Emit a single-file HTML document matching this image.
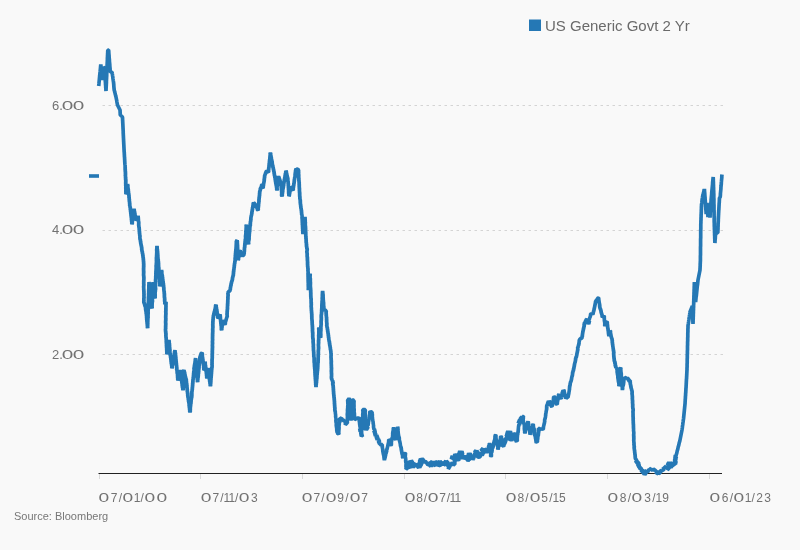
<!DOCTYPE html>
<html><head><meta charset="utf-8"><style>
html,body{margin:0;padding:0;}
body{width:800px;height:550px;background:#f9f9f9;overflow:hidden;position:relative;font-family:"Liberation Sans",sans-serif;}
.t{position:absolute;white-space:nowrap;color:#727272;line-height:1;will-change:transform;}
.z{display:inline-block;transform:scaleX(1.6);margin:0 1.8px;}
.o{display:inline-block;margin:0 -1.4px;}
.yl{font-size:13px;letter-spacing:-0.1px;left:52px;}
.xl{font-size:12px;letter-spacing:1.2px;top:491.5px;}
svg{position:absolute;left:0;top:0;}
</style></head><body>
<svg width="800" height="550" viewBox="0 0 800 550">
<g stroke="#d4d4d4" stroke-width="1" stroke-dasharray="2.5,3.5" fill="none">
<line x1="102.5" y1="105.5" x2="723" y2="105.5"/>
<line x1="102.5" y1="230.5" x2="723" y2="230.5"/>
<line x1="102.5" y1="354.5" x2="723" y2="354.5"/>
</g>
<line x1="98.5" y1="473.5" x2="722" y2="473.5" stroke="#222" stroke-width="1.2"/>
<g stroke="#dadada" stroke-width="1">
<line x1="99.5" y1="474" x2="99.5" y2="479"/>
<line x1="200.5" y1="474" x2="200.5" y2="479"/>
<line x1="302.5" y1="474" x2="302.5" y2="479"/>
<line x1="404.5" y1="474" x2="404.5" y2="479"/>
<line x1="505.5" y1="474" x2="505.5" y2="479"/>
<line x1="607.5" y1="474" x2="607.5" y2="479"/>
<line x1="709.5" y1="474" x2="709.5" y2="479"/>
</g>
<rect x="89" y="174.2" width="10" height="3.6" fill="#2578b5"/>
<polyline points="98.7,86.0 98.8,85.0 98.9,84.0 99.0,82.9 99.1,81.9 99.2,80.9 99.3,79.9 99.4,78.8 99.5,77.8 99.6,76.8 99.7,75.8 99.8,74.7 99.9,73.7 100.0,72.7 100.1,71.7 100.2,70.6 100.3,69.6 100.4,68.6 100.5,67.6 100.6,66.5 100.7,65.5 100.8,64.5 100.9,65.5 101.0,66.6 101.1,67.6 101.3,68.6 101.4,69.7 101.5,70.7 101.6,71.7 101.7,72.8 101.8,73.8 101.9,74.8 102.0,75.9 102.2,76.9 102.3,77.9 102.4,79.0 102.5,80.0 102.6,79.0 102.7,77.9 102.8,76.9 102.8,75.8 102.9,74.8 103.0,73.8 103.1,72.7 103.2,71.7 103.2,70.6 103.3,69.6 103.4,68.5 103.5,67.5 104.5,68.0 104.6,69.0 104.6,70.0 104.7,71.0 104.8,72.0 104.8,73.0 104.9,74.0 105.0,75.0 105.0,76.0 105.1,77.0 105.2,78.0 105.2,79.0 105.3,80.0 105.3,81.0 105.4,82.0 105.5,83.0 105.5,84.0 105.6,85.0 105.7,86.0 105.7,87.0 105.8,88.0 105.9,89.0 105.9,90.0 106.0,91.0 106.0,90.0 106.1,89.0 106.1,88.0 106.2,87.0 106.2,86.0 106.3,85.0 106.3,84.0 106.4,83.0 106.4,82.0 106.4,81.0 106.5,80.0 106.5,79.0 106.6,78.0 106.6,77.0 106.7,76.0 106.7,75.0 106.7,74.0 106.8,73.0 106.8,72.0 106.9,71.0 106.9,70.0 107.0,69.0 107.0,68.0 107.1,67.0 107.1,66.0 107.1,65.0 107.2,64.0 107.2,63.0 107.3,62.0 107.3,61.0 107.4,60.0 107.4,59.0 107.4,58.0 107.5,57.0 107.5,56.0 107.6,55.0 107.6,54.0 107.7,53.0 107.7,52.0 107.8,51.0 107.8,50.0 108.6,50.0 108.7,51.0 108.8,52.0 108.8,53.0 108.9,54.0 109.0,55.0 109.1,56.0 109.1,57.0 109.2,58.0 109.3,59.0 109.4,60.0 109.4,61.0 109.5,62.0 109.6,63.0 109.7,64.0 109.8,65.0 109.8,66.0 109.9,67.0 110.0,68.0 110.1,69.0 110.1,70.0 110.2,71.0 110.3,72.0 112.0,72.0 112.2,73.0 112.3,74.0 112.5,75.0 112.6,76.0 112.8,77.0 112.9,78.0 113.0,79.0 113.2,80.0 113.3,81.0 113.5,82.0 113.6,83.0 113.7,84.0 113.8,85.0 113.8,86.0 113.9,87.0 114.0,88.0 114.1,89.0 114.2,90.0 114.5,91.0 114.7,92.0 115.0,93.0 115.2,94.0 115.5,95.0 115.7,96.0 116.0,97.0 116.2,98.0 116.4,99.0 116.6,100.0 116.8,101.0 116.9,102.0 117.1,103.0 117.3,104.0 117.5,105.0 118.0,106.0 118.5,107.0 119.0,108.0 119.5,109.0 120.0,110.0 120.1,111.0 120.1,112.0 120.2,113.0 120.2,114.0 120.3,115.0 121.4,116.0 122.5,117.0 122.5,118.0 122.6,119.0 122.6,120.0 122.7,121.0 122.7,122.0 122.8,123.0 122.8,124.0 122.9,125.0 122.9,126.0 123.0,127.0 123.0,128.0 123.1,129.0 123.1,130.0 123.2,131.0 123.2,132.0 123.2,133.0 123.3,134.0 123.3,135.0 123.4,136.0 123.4,137.0 123.5,138.0 123.5,139.0 123.6,140.0 123.6,141.0 123.7,142.0 123.7,143.0 123.8,144.0 123.8,145.0 123.9,146.0 123.9,147.0 124.0,148.0 124.0,149.0 124.1,150.0 124.1,151.0 124.2,152.0 124.3,153.0 124.3,154.0 124.4,155.0 124.4,156.0 124.5,157.0 124.6,158.0 124.6,159.0 124.7,160.0 124.7,161.0 124.8,162.0 124.8,163.0 124.9,164.0 125.0,165.0 125.2,166.0 125.0,167.0 125.3,168.0 125.0,169.0 125.4,170.0 125.1,171.0 125.6,172.0 125.2,173.0 125.7,174.0 125.2,175.0 125.6,176.0 125.4,177.0 125.8,178.0 125.4,179.0 126.0,180.0 125.6,181.0 126.0,182.0 125.5,183.0 126.0,184.0 125.5,185.0 126.1,186.0 125.7,187.0 126.0,188.0 125.7,189.0 126.2,190.0 125.5,191.0 126.2,192.0 125.8,193.0 126.0,194.0 126.6,193.1 126.1,192.0 126.6,191.0 126.4,190.0 127.1,189.0 126.7,188.0 127.3,187.0 127.0,186.0 127.7,185.0 127.6,184.0 127.6,185.0 128.1,186.0 127.5,187.0 128.2,188.0 127.9,189.0 128.5,190.0 128.1,191.0 128.7,192.0 128.3,193.0 129.0,194.0 128.7,195.0 129.2,196.0 128.8,197.0 129.3,198.0 129.1,199.0 129.5,200.0 129.1,201.0 129.8,202.0 129.4,203.0 130.0,204.0 129.5,205.0 130.0,206.0 130.0,207.0 130.4,208.0 130.2,209.0 130.6,210.0 130.4,211.0 131.0,212.0 130.5,213.0 131.2,214.0 130.8,215.0 131.4,216.0 131.0,217.0 131.7,218.0 131.3,219.0 131.7,220.0 131.5,221.0 132.0,222.0 131.7,223.0 132.0,224.0 132.4,223.0 132.0,222.0 132.7,221.0 132.1,219.9 132.9,219.0 132.5,218.0 133.3,217.0 132.8,216.0 133.4,215.0 133.2,214.0 133.8,213.0 133.3,212.0 134.0,211.0 133.7,210.0 134.0,209.0 134.3,210.0 134.1,211.0 134.8,211.9 134.5,213.0 135.1,214.0 134.9,215.0 135.4,216.0 135.2,217.0 135.9,218.0 135.6,219.0 136.0,220.0 137.0,219.3 136.6,217.8 138.3,217.4 138.0,216.0 137.9,217.0 138.5,218.0 138.1,219.0 138.6,220.0 138.1,221.0 139.1,222.0 138.5,223.0 139.0,224.0 138.4,225.0 139.1,226.0 138.7,227.0 139.4,228.0 139.0,229.0 139.5,230.0 139.1,231.0 139.7,232.0 139.3,233.0 139.8,234.0 139.6,235.0 140.1,236.0 139.8,237.0 140.0,238.0 139.9,239.0 140.5,240.0 140.3,241.0 140.9,242.0 140.4,243.1 141.2,244.0 140.9,245.1 141.6,246.0 141.3,247.0 142.0,247.9 141.5,249.1 142.0,250.0 141.9,251.0 142.5,252.0 142.2,253.0 142.9,254.0 142.6,255.0 143.2,256.0 142.8,257.0 143.5,258.0 143.1,259.0 143.6,260.0 143.3,261.0 143.8,262.0 143.4,263.0 143.9,264.0 143.5,265.0 143.9,266.0 143.5,267.0 143.8,268.0 143.4,269.0 143.8,270.0 143.4,271.0 144.0,272.0 143.4,273.0 143.9,274.0 143.3,275.0 144.0,276.0 143.6,277.0 144.1,278.0 143.6,279.0 144.1,280.0 143.5,281.0 144.0,282.0 143.5,283.0 144.0,284.0 143.6,285.0 144.0,286.0 143.3,287.0 144.1,288.0 143.4,289.0 144.1,290.0 143.6,291.0 144.2,292.0 143.7,293.0 144.2,294.0 143.8,295.0 144.1,296.0 143.8,297.0 144.3,298.0 143.4,299.0 144.2,300.0 143.7,301.0 144.0,302.0 143.7,303.1 145.1,303.9 143.9,305.2 145.8,305.8 144.5,307.2 146.2,307.8 145.2,309.1 146.0,310.0 145.8,311.0 146.3,312.0 146.0,313.0 146.5,314.0 146.3,315.0 146.8,316.0 146.4,317.0 146.9,318.0 146.5,319.0 147.1,320.0 146.7,321.0 147.3,322.0 146.9,323.0 147.5,324.0 147.1,325.0 147.7,326.0 147.3,327.0 147.6,328.0 147.8,327.0 147.4,326.0 147.9,325.0 147.5,324.0 148.0,323.0 147.5,322.0 148.0,321.0 147.6,320.0 148.0,319.0 147.8,318.0 148.3,317.0 147.7,316.0 148.3,315.0 147.8,314.0 148.4,313.0 147.8,312.0 148.3,311.0 148.0,310.0 148.4,309.0 148.0,308.0 148.4,307.0 148.0,306.0 148.5,305.0 148.0,304.0 148.5,303.0 148.2,302.0 148.7,301.0 148.3,300.0 148.7,299.0 148.3,298.0 148.7,297.0 148.4,296.0 148.9,295.0 148.4,294.0 148.9,293.0 148.6,292.0 148.9,291.0 148.6,290.0 149.0,289.0 148.7,288.0 149.1,287.0 148.7,286.0 149.1,285.0 148.8,284.0 149.2,283.0 149.0,282.0 149.0,283.0 149.5,284.0 149.1,285.0 149.7,286.0 149.1,287.0 149.9,288.0 149.4,289.0 150.1,290.0 149.6,291.0 150.2,292.0 149.8,293.0 150.4,294.0 150.1,295.0 150.5,296.0 150.2,297.0 150.7,298.0 150.2,299.0 151.1,300.0 150.7,301.0 151.0,302.0 150.5,303.1 151.9,303.9 150.9,305.1 152.3,305.9 151.5,307.1 152.0,308.0 152.3,307.0 151.8,306.0 152.3,305.0 151.9,304.0 152.3,303.0 152.1,302.0 152.7,301.0 152.1,300.0 152.6,299.0 152.0,298.0 152.6,297.0 152.1,296.0 152.8,295.0 152.3,294.0 152.7,293.0 152.4,292.0 153.0,291.0 152.4,290.0 152.9,289.0 152.5,288.0 153.1,287.0 152.6,286.0 153.1,285.0 152.8,284.0 153.2,283.0 153.0,282.0 153.0,283.0 153.4,284.0 153.1,285.0 153.7,286.0 153.5,287.0 154.0,288.0 153.6,289.0 154.2,290.0 154.0,291.0 154.5,292.0 154.1,293.0 154.8,294.0 154.4,295.0 155.0,296.0 154.4,297.1 155.0,298.0 155.3,297.0 154.8,296.0 155.4,295.0 154.8,294.0 155.3,293.0 155.0,292.0 155.5,291.0 155.2,290.0 155.8,289.0 155.3,288.0 155.6,287.0 155.3,286.0 155.7,285.0 155.3,284.0 155.7,283.0 155.4,282.0 155.8,281.0 155.4,280.0 155.9,279.0 155.6,278.0 156.0,277.0 155.6,276.0 156.2,275.0 155.7,274.0 156.1,273.0 155.8,272.0 156.2,271.0 155.9,270.0 156.4,269.0 156.0,268.0 156.4,267.0 155.9,266.0 156.5,265.0 156.2,264.0 156.6,263.0 156.3,262.0 156.7,261.0 156.2,260.0 156.7,259.0 156.2,258.0 156.8,257.0 156.4,256.0 156.9,255.0 156.5,254.0 157.0,253.0 156.6,252.0 157.1,251.0 156.3,250.0 157.1,249.0 156.7,248.0 157.2,247.0 157.0,246.0 156.8,247.0 157.3,248.0 157.0,249.0 157.6,250.0 157.2,251.0 157.8,252.0 157.4,253.0 157.9,254.0 157.6,255.0 158.0,256.0 157.6,257.0 158.1,258.0 157.9,259.0 158.4,260.0 158.0,261.0 158.6,262.0 158.3,263.0 158.7,264.0 158.3,265.0 158.8,266.0 158.4,267.0 159.0,268.0 158.7,269.0 159.0,270.0 158.8,271.0 159.4,272.0 158.9,273.0 159.4,274.0 159.0,275.0 159.6,276.0 159.3,277.0 159.7,278.0 159.4,279.0 159.9,280.0 159.4,281.0 159.9,282.0 159.6,283.0 160.1,284.0 159.7,285.0 160.0,286.0 160.4,285.0 159.9,284.0 160.4,283.0 160.1,282.0 160.6,281.0 160.4,280.0 160.9,279.0 160.6,278.0 161.1,277.0 160.8,276.0 161.4,275.0 161.1,274.0 161.4,273.0 161.1,272.0 161.7,271.0 161.6,270.0 161.5,271.0 162.1,272.0 161.4,273.1 162.2,274.0 161.9,275.0 162.5,276.0 162.3,277.0 162.8,278.0 162.4,279.0 163.0,280.0 162.8,281.0 163.3,282.0 163.0,283.0 163.6,284.0 163.3,285.0 163.8,286.0 163.5,287.0 164.0,288.0 163.7,289.0 164.0,290.0 163.9,291.0 164.4,292.0 164.0,293.0 164.6,294.0 164.2,295.0 164.6,296.0 164.2,297.0 164.8,298.0 164.5,299.0 164.9,300.0 164.4,301.0 165.1,302.0 164.7,303.0 165.0,304.0 166.1,303.3 166.0,302.0 165.8,303.0 166.2,304.0 165.7,305.0 166.2,306.0 165.7,307.0 166.2,308.0 165.6,309.0 166.2,310.0 165.6,311.0 166.0,312.0 165.7,313.0 166.1,314.0 165.6,315.0 166.0,316.0 165.5,317.0 166.0,318.0 165.6,319.0 166.0,320.0 165.5,321.0 165.8,322.0 165.5,323.0 166.0,324.0 165.5,325.0 165.9,326.0 165.4,327.0 165.9,328.0 165.4,329.0 165.6,330.0 165.5,331.0 165.9,332.0 165.6,333.0 166.2,334.0 165.7,335.0 166.1,336.0 165.8,337.0 166.3,338.0 166.0,339.0 166.5,340.0 166.1,341.0 166.5,342.0 166.2,343.0 166.7,344.0 166.3,345.0 166.7,346.0 166.4,347.0 166.9,348.0 166.5,349.0 167.0,350.0 166.5,351.0 167.2,352.0 166.7,353.0 167.0,354.0 167.4,353.0 167.2,352.0 167.6,351.0 167.4,350.0 167.9,349.0 167.6,348.0 168.3,347.0 168.0,346.0 168.6,345.0 168.3,344.0 169.0,343.1 168.6,342.0 169.1,341.0 169.0,340.0 168.9,341.0 169.3,342.0 169.1,343.0 169.6,344.0 169.3,345.0 169.7,346.0 169.3,347.0 169.9,348.0 169.6,349.0 170.1,350.0 169.7,351.0 170.0,352.0 169.9,353.0 170.4,354.0 170.0,355.0 170.7,356.0 170.4,357.0 171.0,358.0 170.7,359.0 171.2,360.0 170.9,361.0 171.4,362.0 171.1,363.0 171.7,364.0 171.5,365.0 172.0,366.0 171.7,367.0 172.0,368.0 172.4,367.0 171.8,365.9 172.8,365.0 172.5,364.0 173.0,363.0 172.8,362.0 173.3,361.0 173.1,360.0 173.8,359.0 173.4,358.0 174.1,357.0 173.8,356.0 174.4,355.0 174.1,354.0 174.7,353.0 174.4,352.0 175.0,351.0 175.0,350.0 174.8,351.0 175.3,352.0 175.2,353.0 175.7,354.0 175.2,355.0 175.9,356.0 175.5,357.0 176.1,358.0 175.6,359.0 176.3,360.0 175.8,361.0 176.5,362.0 176.0,363.0 176.7,364.0 176.2,365.0 176.8,366.0 176.5,367.0 177.0,368.0 176.6,369.0 177.0,370.0 177.0,371.0 177.3,372.0 177.0,373.0 177.7,374.0 177.4,375.0 177.8,376.0 177.4,377.0 178.0,378.0 177.6,379.0 178.0,380.0 178.5,379.1 178.3,378.0 178.7,377.0 178.7,376.0 179.3,375.1 178.9,373.9 179.7,373.1 179.5,372.0 180.1,371.1 180.0,370.0 179.9,371.0 180.5,372.0 180.2,373.0 180.8,374.0 180.3,375.1 181.0,376.0 180.8,377.0 181.4,378.0 181.2,379.0 181.9,379.9 181.5,381.0 182.0,382.0 181.8,383.0 182.3,384.0 182.0,385.0 182.6,386.0 182.2,387.0 182.9,388.0 182.7,389.0 183.0,390.0 183.3,389.0 182.9,388.0 183.5,387.0 183.0,386.0 183.5,385.0 183.1,384.0 183.6,383.0 183.1,382.0 183.6,381.0 183.3,380.0 183.8,379.0 183.5,378.0 183.9,377.0 183.5,376.0 184.0,375.0 183.5,374.0 184.0,373.0 183.7,372.0 184.1,371.0 184.0,370.0 183.4,371.2 185.2,371.8 184.1,373.2 185.5,373.9 184.5,375.2 185.9,375.9 185.0,377.2 186.0,378.0 185.9,379.0 186.5,380.0 186.1,381.0 186.6,382.0 186.4,383.0 186.9,384.0 186.6,385.0 187.2,386.0 186.7,387.0 187.3,388.0 186.9,389.0 187.6,390.0 187.0,391.0 187.7,392.0 187.4,393.0 188.0,394.0 187.6,395.0 188.0,396.0 187.8,397.0 188.5,398.0 188.1,399.0 188.7,400.0 188.4,401.0 189.0,402.0 188.7,403.0 189.5,403.9 188.9,405.0 189.4,406.0 189.2,407.0 189.7,408.0 189.4,409.0 190.0,410.0 189.6,411.0 190.0,412.0 190.4,411.0 190.0,410.0 190.6,409.0 189.9,407.9 190.8,407.0 190.3,406.0 190.8,405.0 190.5,404.0 191.2,403.0 190.8,402.0 191.2,401.0 191.0,400.0 191.5,399.0 191.2,398.0 192.0,397.0 191.6,396.0 192.0,395.0 191.7,394.0 192.0,393.0 191.7,392.0 192.2,391.0 192.0,390.0 192.5,389.0 192.1,388.0 192.7,387.0 192.3,386.0 192.9,385.0 192.4,384.0 193.0,383.0 192.7,382.0 193.1,381.0 192.8,380.0 193.3,379.0 193.1,378.0 193.5,377.0 193.3,376.0 193.8,375.0 193.4,374.0 193.9,373.0 193.6,372.0 194.2,371.0 194.0,370.0 194.3,369.0 193.7,367.9 194.7,367.0 194.0,365.9 194.9,365.0 194.5,364.0 195.2,363.0 194.9,362.0 195.5,361.0 195.1,360.0 195.6,359.0 195.6,358.0 195.4,359.0 195.9,360.0 195.6,361.0 196.1,362.0 195.8,363.0 196.4,364.0 195.9,365.0 196.5,366.0 195.9,367.0 196.7,368.0 196.2,369.0 197.0,370.0 196.4,371.0 197.1,372.0 196.7,373.0 197.1,374.0 196.8,375.0 197.2,376.0 197.0,377.0 197.4,378.0 197.1,379.0 197.6,380.0 197.3,381.0 197.6,382.0 197.8,381.0 197.5,380.0 198.1,379.0 197.6,378.0 198.4,377.0 198.0,376.0 198.4,375.0 198.2,374.0 198.7,373.0 198.4,372.0 198.9,371.0 198.4,370.0 199.1,369.0 198.8,368.0 199.2,367.0 198.9,366.0 199.4,365.0 199.0,364.0 199.5,363.0 199.2,362.0 199.8,361.0 199.4,360.0 200.0,359.0 199.6,358.0 200.2,357.0 200.0,356.0 201.1,355.3 200.8,353.7 202.0,353.0 202.4,354.0 202.0,355.0 202.5,356.0 202.2,357.0 202.8,358.0 202.5,359.0 203.2,360.0 202.7,361.0 203.2,362.0 202.9,363.0 203.6,364.0 203.1,365.0 204.1,365.9 203.4,367.0 204.0,368.0 203.7,369.0 204.0,370.0 204.8,369.1 203.6,367.9 205.3,367.1 204.0,365.9 205.0,365.1 203.9,363.9 205.4,363.1 205.0,362.0 204.9,363.0 205.4,364.0 205.2,365.0 205.7,366.0 205.5,367.0 206.0,368.0 205.6,369.0 206.2,370.0 205.9,371.0 206.5,372.0 206.2,373.0 206.7,374.0 206.4,375.0 206.9,376.0 206.6,377.0 207.0,378.0 207.3,377.0 207.0,376.0 207.5,375.0 207.1,374.0 207.8,373.0 207.5,372.0 207.9,371.0 207.7,370.0 208.2,369.0 208.0,368.0 208.0,369.0 208.5,370.0 208.2,371.0 208.8,372.0 208.4,373.0 209.1,374.0 208.7,375.0 209.4,376.0 208.7,377.1 209.6,378.0 209.2,379.0 209.8,380.0 209.5,381.0 210.1,382.0 209.8,383.0 210.4,384.0 210.1,385.0 210.4,386.0 210.7,385.0 210.3,384.0 210.9,383.0 210.6,382.0 211.0,381.0 210.6,380.0 211.3,379.0 210.7,378.0 211.4,377.0 211.0,376.0 211.5,375.0 211.1,374.0 211.7,373.0 211.3,372.0 211.8,371.0 211.4,370.0 212.0,369.0 211.6,368.0 212.2,367.0 212.0,366.0 212.2,365.0 211.8,364.0 212.3,363.0 211.8,362.0 212.3,361.0 211.8,360.0 212.4,359.0 212.0,358.0 212.5,357.0 212.0,356.0 212.5,355.0 212.0,354.0 212.6,353.0 212.1,352.0 212.5,351.0 212.2,350.0 212.6,349.0 212.2,348.0 212.8,347.0 212.2,346.0 212.6,345.0 212.3,344.0 212.8,343.0 212.2,342.0 212.7,341.0 212.4,340.0 212.8,339.0 212.3,338.0 212.8,337.0 212.4,336.0 212.8,335.0 212.4,334.0 212.9,333.0 212.5,332.0 213.0,331.0 212.5,330.0 212.9,329.0 212.6,328.0 213.1,327.0 212.6,326.0 213.0,325.0 212.6,324.0 213.1,323.0 212.6,322.0 213.2,321.0 212.8,320.0 213.3,319.0 213.0,318.0 213.5,317.1 213.2,315.9 213.9,315.0 213.7,313.9 214.3,313.0 214.2,312.0 214.8,311.0 214.7,310.0 215.4,309.1 215.1,307.9 215.8,307.1 215.4,305.9 216.0,305.0 216.3,306.0 216.1,307.0 216.6,308.0 216.3,309.0 217.0,310.0 216.8,311.0 217.2,312.0 216.9,313.0 217.6,314.0 217.3,315.0 217.9,316.0 217.6,317.0 218.0,318.0 218.9,317.2 218.4,315.7 220.0,315.3 220.0,314.0 219.8,315.0 220.5,316.0 220.1,317.0 220.6,318.0 220.2,319.0 220.8,320.0 220.5,321.0 221.0,322.0 220.7,323.0 221.2,324.0 220.9,325.0 221.4,326.0 221.2,327.0 221.6,328.0 221.2,329.0 221.6,330.0 221.9,329.0 221.7,328.0 222.2,327.0 221.9,326.0 222.6,325.0 222.3,324.0 222.7,323.0 222.5,322.0 223.1,321.0 223.0,320.0 222.8,321.3 224.7,321.6 223.9,323.3 225.0,324.0 225.7,323.1 224.8,321.8 226.4,321.2 225.6,319.9 226.8,319.1 226.1,317.9 227.4,317.2 227.0,316.0 227.3,315.0 226.8,314.0 227.4,313.0 226.9,312.0 227.5,311.0 227.0,310.0 227.7,309.0 227.3,308.0 227.6,307.0 227.4,306.0 227.8,305.0 227.4,304.0 228.0,303.0 227.5,302.0 228.1,301.0 227.5,300.0 228.2,299.0 227.7,298.0 228.1,297.0 227.8,296.0 228.4,295.0 227.7,294.0 228.2,293.0 228.2,291.6 229.8,291.3 230.0,290.0 230.5,289.1 230.2,288.0 230.7,287.0 230.6,286.0 231.2,285.0 230.9,283.9 231.6,283.0 231.4,282.0 232.1,281.1 232.0,280.0 232.8,279.2 232.2,277.9 233.0,277.0 232.9,276.0 233.5,275.0 233.2,274.0 233.7,273.0 233.3,272.0 233.9,271.0 233.6,270.0 234.1,269.0 233.9,268.0 234.4,267.0 234.1,266.0 234.6,265.0 234.3,264.0 235.0,263.0 234.6,262.0 235.2,261.0 235.0,260.0 235.2,259.0 235.0,258.0 235.7,257.0 235.0,256.0 235.7,255.0 235.3,254.0 235.8,253.0 235.5,252.0 236.0,251.0 235.7,250.0 236.2,249.0 235.9,248.0 236.4,247.0 236.0,246.0 236.5,245.0 236.1,244.0 236.6,243.0 236.2,242.0 236.6,241.0 237.2,240.0 237.0,241.0 237.6,242.0 237.0,243.0 237.6,244.0 237.3,245.0 237.7,246.0 237.3,247.0 237.8,248.0 237.4,249.0 237.9,250.0 237.3,251.0 238.1,252.0 237.6,253.0 238.1,254.0 237.7,255.0 238.2,256.0 237.8,257.0 238.4,258.0 238.0,259.0 238.2,260.0 238.6,259.0 238.4,258.0 238.9,257.0 238.6,255.9 239.4,255.1 239.0,253.9 240.0,253.1 239.4,252.0 240.0,251.0 240.0,250.0 239.4,251.2 241.3,251.8 240.3,253.2 241.5,253.9 240.7,255.2 242.1,255.9 242.0,257.0 242.2,255.7 243.8,255.3 244.0,254.0 244.3,253.0 244.0,252.0 244.6,251.0 244.2,250.0 244.6,249.0 244.3,248.0 244.9,247.0 244.6,246.0 245.0,245.0 244.7,244.0 245.2,243.0 244.9,242.0 245.5,241.0 245.0,240.0 245.7,239.0 245.5,238.0 245.7,237.0 245.4,236.0 246.0,235.0 245.5,234.0 246.3,233.0 245.7,232.0 246.1,231.0 245.9,230.0 246.4,229.0 245.9,228.0 246.6,227.0 246.0,226.0 246.4,225.0 246.7,226.0 246.4,227.0 247.0,228.0 246.7,229.0 247.2,230.0 246.6,231.1 247.4,232.0 247.1,233.0 247.5,234.0 247.2,235.0 247.8,236.0 247.4,237.0 248.1,238.0 247.8,239.0 248.2,240.0 248.0,241.0 248.5,242.0 248.1,243.0 248.5,244.0 248.8,243.0 248.1,242.0 248.9,241.0 248.6,240.0 249.4,239.0 248.8,238.0 249.3,237.0 248.9,236.0 249.5,235.0 249.0,234.0 249.6,233.0 249.3,232.0 250.0,231.0 249.5,230.0 250.0,229.0 249.6,228.0 250.0,227.0 250.0,226.0 250.5,225.0 250.1,224.0 250.5,223.0 250.3,222.0 250.8,221.0 250.6,220.0 251.2,219.0 250.5,217.9 251.4,217.0 251.0,216.0 251.7,215.0 251.6,214.0 252.0,213.0 251.7,212.0 252.4,211.1 252.1,210.0 252.7,209.0 252.4,208.0 253.0,207.0 252.8,206.0 253.3,205.0 253.0,204.0 253.6,203.0 253.6,202.0 253.7,203.3 255.1,203.8 254.9,205.3 256.0,206.0 255.9,207.3 257.7,207.6 257.0,209.2 258.0,210.0 258.4,209.0 257.9,208.0 258.6,207.0 258.3,206.0 258.7,205.0 258.4,204.0 258.9,203.0 258.7,202.0 259.2,201.0 258.7,200.0 259.3,199.0 258.9,198.0 259.5,197.0 259.2,196.0 259.8,195.0 259.3,194.0 259.9,193.0 259.5,192.0 260.1,191.0 260.0,190.0 260.8,189.2 260.0,187.7 262.0,187.3 261.1,185.8 262.0,185.0 263.0,185.8 262.0,187.2 263.0,188.0 263.3,187.0 263.2,186.0 263.6,185.0 263.3,184.0 264.1,183.1 263.6,182.0 264.6,181.1 263.9,180.0 264.5,179.0 264.3,178.0 264.8,177.0 264.4,176.0 265.1,175.0 265.0,174.0 266.1,173.3 265.4,171.7 267.2,171.3 267.0,170.0 267.1,171.4 268.4,172.0 268.8,171.0 268.3,170.0 268.9,169.0 268.6,168.0 269.2,167.0 268.8,166.0 269.4,165.0 268.9,164.0 269.6,163.0 269.3,162.0 269.7,161.0 269.4,160.0 270.1,159.0 269.7,158.0 270.2,157.0 269.8,156.0 270.5,155.0 270.0,154.0 270.4,153.0 270.8,154.0 270.5,155.1 271.1,156.0 271.0,157.0 271.4,158.0 271.3,159.0 271.8,160.0 271.7,161.0 272.3,161.9 272.1,163.0 272.4,164.0 272.4,165.0 273.0,166.0 272.7,167.1 273.4,168.0 273.2,169.0 273.8,170.0 273.5,171.1 274.3,171.9 274.0,173.0 274.4,174.0 274.3,175.0 274.9,176.0 274.6,177.0 275.3,178.0 275.0,179.0 275.6,180.0 275.2,181.0 276.0,182.0 275.5,183.1 276.2,184.0 276.1,185.0 276.5,186.0 276.4,187.0 276.9,188.0 276.6,189.0 277.0,190.0 277.4,189.0 276.6,187.9 277.5,187.0 276.9,186.0 277.7,185.0 277.4,184.0 277.8,183.0 277.6,182.0 278.0,181.0 277.8,180.0 278.3,179.0 278.0,178.0 278.5,177.0 278.4,176.0 278.2,177.2 279.9,177.7 278.9,179.1 280.5,179.7 279.5,181.2 281.2,181.7 280.3,183.1 281.0,184.0 280.9,185.0 281.5,186.0 281.0,187.0 281.6,188.0 281.2,189.0 281.8,190.0 281.4,191.0 281.9,192.0 281.5,193.0 282.0,194.0 281.3,195.0 282.0,196.0 282.4,195.0 282.1,194.0 282.6,193.0 282.4,192.0 283.0,191.0 282.3,189.9 283.3,189.0 282.9,188.0 283.5,187.0 283.3,186.0 283.9,185.0 283.5,184.0 284.0,183.0 284.0,182.0 284.4,181.0 284.1,180.0 284.8,179.0 284.5,178.0 285.2,177.0 284.9,176.0 285.4,175.0 285.2,174.0 285.9,173.0 285.7,172.0 286.0,171.0 286.5,171.9 286.2,173.0 286.9,173.9 286.7,175.0 287.3,176.0 287.1,177.1 288.1,177.9 287.6,179.0 288.0,180.0 287.8,181.0 288.3,182.0 288.0,183.0 288.5,184.0 288.1,185.0 288.6,186.0 288.2,187.0 288.7,188.0 288.3,189.0 288.9,190.0 288.5,191.0 288.9,192.0 288.5,193.0 289.0,194.0 288.8,195.0 289.0,196.0 289.5,195.1 289.2,194.0 289.9,193.1 289.6,192.0 290.2,191.0 289.9,189.9 290.8,189.1 290.4,188.0 291.1,187.1 291.0,186.0 291.0,187.3 292.7,187.6 292.0,189.3 293.0,190.0 293.4,189.0 293.0,188.0 293.6,187.0 293.4,186.0 294.0,185.0 293.6,184.0 294.3,183.0 294.0,182.0 294.5,181.0 294.1,180.0 294.8,179.0 294.5,178.0 295.1,177.0 295.0,176.0 295.9,175.1 294.2,173.9 296.1,173.1 294.7,171.9 296.0,171.1 295.3,169.9 296.3,169.1 296.0,168.0 296.3,169.3 297.9,169.0 298.4,170.0 298.7,171.0 298.4,172.0 298.8,173.0 298.3,174.0 299.0,175.0 298.5,176.0 298.9,177.0 298.6,178.0 299.1,179.0 298.6,180.0 299.2,181.0 298.9,182.0 299.4,183.0 298.9,184.0 299.5,185.0 299.0,186.0 299.5,187.0 299.1,188.0 299.7,189.0 299.2,190.0 299.7,191.0 299.3,192.0 299.9,193.0 299.5,194.0 299.9,195.0 299.5,196.0 300.1,197.0 299.7,198.0 300.1,199.0 300.0,200.0 300.6,200.9 300.0,202.0 300.6,203.0 300.2,204.0 300.9,205.0 300.5,206.0 301.1,207.0 300.7,208.0 301.4,209.0 301.1,210.0 301.7,211.0 301.3,212.0 301.8,213.0 301.5,214.0 302.0,215.0 302.0,216.0 302.2,217.0 301.9,218.0 302.4,219.0 302.0,220.0 302.6,221.0 302.0,222.0 302.7,223.0 302.1,224.0 302.7,225.0 302.4,226.0 302.8,227.0 302.4,228.0 303.0,229.0 302.5,230.0 303.1,231.0 302.6,232.0 303.1,233.0 303.0,234.0 302.8,233.0 303.5,232.0 303.1,231.0 303.7,230.0 303.4,229.0 303.9,228.0 303.5,227.0 304.5,226.1 303.8,225.0 304.4,224.0 303.8,222.9 304.6,222.0 304.4,221.0 304.8,220.0 304.4,219.0 305.1,218.0 305.0,217.0 304.8,218.0 305.3,219.0 305.0,220.0 305.3,221.0 305.1,222.0 305.5,223.0 305.0,224.0 305.5,225.0 305.2,226.0 305.7,227.0 305.3,228.0 305.8,229.0 305.3,230.0 305.8,231.0 305.5,232.0 305.9,233.0 305.6,234.0 305.9,235.0 305.7,236.0 306.1,237.0 305.8,238.0 306.2,239.0 306.0,240.0 306.3,241.0 306.0,242.0 306.5,243.0 306.3,244.0 306.7,245.0 306.3,246.0 306.9,247.0 306.6,248.0 307.4,249.0 307.0,250.0 307.2,251.0 306.5,252.0 307.4,253.0 306.9,254.0 307.5,255.0 306.7,256.0 307.6,257.0 307.2,258.0 307.6,259.0 307.2,260.0 307.7,261.0 307.4,262.0 307.8,263.0 307.3,264.0 307.9,265.0 307.4,266.0 308.0,267.0 307.7,268.0 308.2,269.0 307.8,270.0 308.1,271.0 308.0,272.0 308.3,273.0 307.8,274.0 308.4,275.0 307.8,276.0 308.4,277.0 307.9,278.0 308.4,279.0 307.9,280.0 308.5,281.0 307.9,282.0 308.6,283.0 308.1,284.0 308.5,285.0 308.1,286.0 308.6,287.0 308.1,288.0 308.6,289.0 308.4,290.0 308.2,289.0 308.9,288.0 308.5,287.0 309.1,286.0 308.7,285.0 309.3,284.0 309.0,283.0 309.3,282.0 309.0,281.0 309.6,280.0 309.3,279.0 309.8,278.0 309.5,277.0 309.9,276.0 309.6,275.0 310.0,274.0 310.3,275.0 309.9,276.0 310.2,277.0 310.0,278.0 310.5,279.0 310.1,280.0 310.5,281.0 310.1,282.0 310.7,283.0 310.1,284.0 310.7,285.0 310.0,286.0 310.7,287.0 310.3,288.0 310.8,289.0 310.5,290.0 310.9,291.0 310.5,292.0 311.0,293.0 310.6,294.0 311.0,295.0 310.6,296.0 311.1,297.0 310.7,298.0 311.3,299.0 311.0,300.0 311.2,301.0 311.0,302.0 311.4,303.0 311.0,304.0 311.6,305.0 310.8,306.0 311.5,307.0 311.1,308.0 311.6,309.0 311.1,310.0 311.8,311.0 311.3,312.0 311.9,313.0 311.5,314.0 312.1,315.0 311.5,316.0 312.1,317.0 311.6,318.0 312.1,319.0 311.8,320.0 312.3,321.0 311.9,322.0 312.4,323.0 311.9,324.0 312.6,325.0 312.1,326.0 312.7,327.0 312.2,328.0 312.8,329.0 312.3,330.0 312.7,331.0 312.4,332.0 313.0,333.0 312.5,334.0 313.0,335.0 312.5,336.0 313.0,337.0 312.6,338.0 313.2,339.0 313.0,340.0 313.3,341.0 312.9,342.0 313.4,343.0 313.0,344.0 313.8,345.0 313.0,346.0 313.6,347.0 313.3,348.0 313.6,349.0 313.3,350.0 313.8,351.0 313.5,352.0 314.0,353.0 313.5,354.0 314.1,355.0 313.6,356.0 314.1,357.0 314.0,358.0 314.4,359.0 314.0,360.0 314.4,361.0 314.0,362.0 314.5,363.0 314.3,364.0 314.7,365.0 314.3,366.0 314.8,367.0 314.5,368.0 315.0,369.0 314.7,370.0 315.2,371.0 314.7,372.0 315.3,373.0 314.9,374.0 315.3,375.0 315.0,376.0 315.6,377.0 315.1,378.0 315.6,379.0 315.3,380.0 315.8,381.0 315.4,382.0 316.0,383.0 315.5,384.0 316.0,385.0 315.8,386.0 316.0,387.0 316.2,386.0 315.9,385.0 316.4,384.0 316.2,383.0 316.7,382.0 316.3,381.0 316.8,380.0 316.5,379.0 317.1,378.0 316.7,377.0 317.1,376.0 316.7,375.0 317.4,374.0 317.0,373.0 317.5,372.0 317.2,371.0 317.8,370.0 317.3,369.0 318.0,368.0 317.5,367.0 318.0,366.0 317.6,365.0 318.0,364.0 317.8,363.0 318.3,362.0 317.9,361.0 318.3,360.0 318.0,359.0 318.3,358.0 318.0,357.0 318.5,356.0 317.9,355.0 318.5,354.0 318.2,353.0 318.5,352.0 318.1,351.0 318.6,350.0 318.3,349.0 318.8,348.0 318.3,347.0 318.7,346.0 318.2,345.0 318.7,344.0 318.4,343.0 318.8,342.0 318.3,341.0 318.9,340.0 318.5,339.0 319.0,338.0 318.6,337.0 318.9,336.0 318.5,335.0 319.2,334.0 318.6,333.0 319.2,332.0 318.6,331.0 319.1,330.0 318.6,329.0 319.0,328.0 319.4,329.0 318.9,330.1 319.8,331.0 319.5,332.0 320.0,333.0 319.7,334.0 320.3,335.0 320.0,336.0 320.6,337.0 320.6,338.0 320.5,337.0 320.9,336.0 320.5,335.0 321.1,334.0 320.3,333.0 321.0,332.0 320.6,331.0 321.1,330.0 320.7,329.0 321.1,328.0 320.6,327.0 321.2,326.0 320.9,325.0 321.4,324.0 320.9,323.0 321.3,322.0 320.9,321.0 321.5,320.0 321.1,319.0 321.5,318.0 321.1,317.0 321.4,316.0 321.1,315.0 321.8,314.0 321.3,313.0 321.9,312.0 321.5,311.0 321.8,310.0 321.6,309.0 322.1,308.0 321.7,307.0 322.1,306.0 321.7,305.0 322.2,304.0 321.8,303.0 322.3,302.0 321.8,301.0 322.7,300.0 321.9,299.0 322.5,298.0 322.1,297.0 322.6,296.0 322.1,295.0 322.7,294.0 322.2,293.0 322.8,292.0 322.6,291.0 322.5,292.0 323.0,293.0 322.6,294.0 323.4,295.0 322.8,296.0 323.3,297.0 322.9,298.0 323.4,299.0 323.0,300.0 323.6,301.0 323.1,302.0 324.0,303.0 323.3,304.0 323.8,305.0 323.5,306.0 324.0,307.0 323.7,308.0 324.1,309.0 324.0,310.0 325.2,310.1 326.0,311.0 326.4,312.0 325.8,313.0 326.5,314.0 326.0,315.0 326.5,316.0 326.3,317.0 326.8,318.0 326.3,319.0 326.9,320.0 326.4,321.0 326.9,322.0 326.6,323.0 327.1,324.0 326.6,325.0 327.0,326.0 326.9,327.0 327.5,328.0 327.2,329.0 327.8,330.0 327.6,331.0 328.0,332.0 327.9,333.0 328.4,334.0 328.1,335.0 328.7,336.0 328.3,337.0 328.9,338.0 328.7,339.0 329.0,340.0 329.0,341.0 329.6,341.9 329.3,343.0 329.9,344.0 329.5,345.1 330.2,346.0 330.0,347.0 330.5,348.0 330.2,349.1 330.8,350.0 330.7,351.0 331.0,352.0 330.8,353.0 331.3,354.0 330.8,355.0 331.4,356.0 330.6,357.0 331.4,358.0 330.9,359.0 331.4,360.0 331.1,361.0 331.5,362.0 331.0,363.0 331.5,364.0 331.1,365.0 331.6,366.0 331.1,367.0 331.7,368.0 331.3,369.0 331.6,370.0 331.2,371.0 331.6,372.0 331.3,373.0 331.7,374.0 331.4,375.0 331.7,376.0 331.3,377.0 331.6,378.0 331.4,379.1 332.6,379.9 331.6,381.2 334.0,381.7 332.1,383.2 333.0,384.0 332.8,385.0 333.4,386.0 333.0,387.0 333.5,388.0 333.2,389.0 333.6,390.0 333.3,391.0 333.8,392.0 333.4,393.0 333.9,394.0 333.6,395.0 334.2,396.0 333.7,397.0 334.4,398.0 334.0,399.0 334.5,400.0 334.2,401.0 334.7,402.0 334.2,403.0 334.8,404.0 334.4,405.0 334.9,406.0 334.5,407.0 335.1,408.0 334.7,409.0 335.0,410.0 334.8,411.0 335.8,411.9 334.8,413.0 336.0,413.9 335.1,415.0 336.3,415.9 334.9,417.1 336.5,417.9 335.4,419.0 336.6,419.9 335.2,421.1 336.6,422.0 335.7,423.0 336.8,423.9 335.8,425.0 336.7,426.0 336.1,427.0 337.1,428.0 336.1,429.0 337.4,429.9 336.1,431.1 337.7,431.9 337.0,433.0 338.6,434.0 339.1,433.0 338.3,432.0 339.3,431.0 338.5,430.0 339.3,429.0 338.7,428.0 339.5,427.0 338.5,426.0 339.6,425.0 338.9,424.0 339.7,423.0 338.8,422.0 340.8,421.1 339.1,420.0 339.6,419.0 341.5,417.9 342.0,420.0 344.0,420.0 344.0,422.0 345.6,420.6 345.3,424.8 347.0,423.0 347.7,422.0 346.8,421.0 347.7,420.0 346.8,419.0 347.9,418.0 346.8,417.0 347.9,416.0 346.8,415.0 347.7,414.0 346.9,413.0 348.1,412.0 346.9,411.0 347.9,410.0 347.1,409.0 348.2,408.0 347.3,407.0 348.2,406.0 347.5,405.0 348.4,404.0 347.3,403.0 348.2,402.0 347.4,401.0 348.0,400.0 349.0,398.5 350.0,400.0 350.7,401.0 349.7,402.0 350.8,403.0 349.8,404.0 350.9,405.0 349.7,406.0 350.9,407.0 350.1,408.0 350.8,409.0 350.2,410.0 351.0,411.0 350.3,412.0 351.3,413.0 350.3,414.0 351.2,415.0 350.0,416.0 351.4,417.0 350.5,418.0 351.5,419.0 351.0,420.0 350.5,419.0 351.7,418.0 350.9,417.0 351.7,416.0 350.7,415.0 352.0,414.0 351.0,413.0 351.8,412.0 351.1,411.0 352.2,410.0 351.4,409.0 352.1,408.0 351.5,407.0 353.2,406.1 351.7,405.0 352.8,404.0 351.8,403.0 352.7,402.0 351.9,401.0 352.4,400.0 354.0,400.0 353.7,401.0 354.4,402.0 353.5,403.0 354.5,404.0 353.5,405.0 354.6,406.0 353.5,407.0 354.5,408.0 353.6,409.0 354.8,410.0 353.6,411.0 354.6,412.0 353.9,413.0 354.9,414.0 354.0,415.0 354.9,416.0 354.1,417.0 354.4,418.0 354.4,419.8 357.1,418.1 357.0,420.0 357.2,418.2 359.0,418.0 359.6,419.0 358.9,420.0 359.7,421.0 358.9,422.1 360.0,422.9 359.2,424.0 360.2,424.9 359.5,426.0 360.5,426.9 360.0,428.0 361.8,428.7 358.7,430.3 361.6,430.8 359.9,432.1 362.4,432.7 359.7,434.2 363.1,434.7 361.4,436.0 361.0,435.0 361.8,434.0 361.1,433.0 362.2,432.0 361.1,431.0 362.1,430.0 361.4,429.0 362.4,428.0 361.6,427.0 362.6,426.0 361.7,425.0 362.8,424.0 361.7,423.0 362.7,422.0 361.6,421.0 363.1,420.0 362.1,419.0 363.0,418.0 362.3,417.0 363.2,416.0 362.4,415.0 363.1,414.0 362.5,413.0 363.5,412.0 362.6,411.0 363.0,410.0 364.0,409.0 365.0,410.0 365.6,411.0 364.7,412.0 365.5,413.0 364.8,414.0 365.8,415.0 364.8,416.0 365.8,417.0 364.8,418.0 365.8,419.0 364.8,420.0 365.9,421.0 365.0,422.0 365.7,423.0 365.0,424.0 365.8,425.0 364.8,426.0 366.1,427.0 365.2,428.0 366.0,429.0 365.6,430.0 365.1,428.4 368.3,428.9 366.7,426.6 368.0,426.0 367.6,424.9 368.9,424.1 367.8,422.9 368.9,422.1 368.3,420.9 369.3,420.1 368.6,418.9 369.6,418.1 368.7,416.9 369.8,416.1 369.0,414.9 370.3,414.1 369.3,412.9 370.0,412.0 372.1,411.9 372.0,414.0 372.7,414.9 371.8,416.1 373.0,416.9 371.9,418.1 373.3,418.9 372.1,420.1 373.4,420.9 372.7,422.0 373.6,422.9 372.8,424.1 374.0,424.9 373.1,426.0 374.0,427.0 373.0,428.1 374.5,428.9 374.0,430.0 375.8,430.4 373.3,432.6 376.4,432.5 374.0,434.6 376.0,435.0 375.3,436.4 378.5,436.3 375.5,438.7 378.7,438.6 378.0,440.0 379.9,440.2 378.1,442.8 380.0,443.0 379.5,444.8 382.4,444.3 382.0,446.0 382.7,446.9 381.9,448.1 383.2,448.9 382.4,450.1 383.1,451.0 382.6,452.1 383.6,452.9 382.9,454.1 384.1,454.9 383.4,456.1 384.5,456.9 383.4,458.1 384.7,458.9 384.4,460.0 384.1,458.9 385.3,458.1 384.8,456.9 385.8,456.1 385.2,454.9 386.3,454.1 385.6,452.8 387.1,452.2 386.1,450.8 387.0,450.0 386.6,448.9 387.8,448.1 387.0,446.9 388.3,446.1 387.4,444.9 388.7,444.1 387.9,442.9 389.1,442.1 388.4,440.9 389.0,440.0 390.4,440.6 388.6,442.5 391.4,442.5 389.9,444.3 391.0,445.0 391.7,444.1 390.9,442.9 391.9,442.1 391.1,440.9 392.1,440.1 391.4,438.9 392.6,438.1 391.8,436.9 393.5,436.2 391.9,434.9 393.2,434.1 392.2,432.9 393.3,432.0 392.6,430.9 393.7,430.1 393.1,428.9 393.6,428.0 394.1,428.9 393.4,430.1 394.4,430.9 394.0,432.0 394.8,432.9 394.3,434.1 395.2,434.9 394.5,436.1 395.6,436.9 394.8,438.1 395.8,438.9 395.6,440.0 395.2,438.9 396.3,438.1 395.6,436.9 396.8,436.1 396.0,434.9 397.4,434.1 396.1,432.9 397.2,432.1 396.3,430.9 397.6,430.1 396.8,428.9 398.0,428.1 397.6,427.0 397.4,428.0 398.5,428.9 397.5,430.1 398.5,430.9 397.7,432.1 398.7,433.0 397.9,434.1 398.9,435.0 398.3,436.1 399.3,436.9 399.0,438.0 399.6,438.9 398.8,440.1 400.1,440.9 399.4,442.1 400.6,442.9 399.8,444.1 400.8,444.9 400.1,446.1 401.2,446.9 401.0,448.0 401.5,448.9 401.1,450.1 401.9,450.9 401.5,452.1 402.3,452.9 401.6,454.1 403.0,454.9 402.1,456.1 403.1,456.9 403.0,458.0 402.3,456.3 405.5,456.4 403.4,454.1 405.0,453.4 406.1,454.4 404.4,455.6 406.1,456.4 404.6,457.6 406.4,458.5 405.2,459.6 406.3,460.5 405.0,461.7 406.6,462.6 405.4,463.7 406.8,464.6 405.3,465.8 406.4,466.7 405.9,469.4 409.0,466.6 409.0,468.4 407.5,467.0 410.7,466.5 405.5,464.2 411.9,464.4 408.0,462.5 410.4,461.8 413.3,461.3 409.9,464.5 414.5,463.1 410.0,466.9 413.0,466.3 414.8,466.6 413.2,463.5 416.1,464.9 416.0,463.3 414.8,465.9 418.4,464.2 416.8,467.1 419.0,466.7 421.4,466.5 418.0,464.0 422.8,464.8 418.4,461.9 422.6,462.4 418.6,459.8 424.1,460.7 422.0,458.8 420.1,461.3 424.6,459.5 422.4,462.3 425.6,461.5 425.0,463.2 425.3,460.9 428.0,465.1 428.0,462.1 426.7,464.9 430.5,462.6 428.7,465.9 431.0,465.1 433.5,465.5 430.0,461.6 435.1,463.8 433.6,461.4 432.9,463.3 437.2,461.6 433.6,465.6 438.3,463.6 437.0,466.0 436.7,464.2 440.4,465.7 437.4,461.7 440.0,462.3 442.0,461.7 439.5,465.8 443.6,463.0 443.0,465.2 441.9,462.5 445.9,465.1 443.9,461.6 446.0,462.2 448.3,461.4 446.4,465.7 449.0,464.6 448.3,469.0 452.1,462.6 452.0,465.8 450.5,463.4 455.3,464.8 454.0,462.5 455.9,461.9 453.4,460.1 456.1,459.7 450.3,457.0 457.4,457.8 453.3,455.6 456.0,455.2 458.0,455.4 455.5,457.6 459.5,456.9 456.3,459.4 458.0,459.7 460.0,459.3 456.3,456.6 461.6,457.6 457.2,454.5 462.7,455.6 458.0,452.4 461.0,452.4 463.5,452.7 459.4,455.5 463.5,455.1 460.4,457.6 465.4,456.8 463.6,458.8 462.9,456.6 467.3,458.8 466.0,456.0 465.1,457.5 468.7,457.1 465.9,459.4 469.4,459.0 468.0,460.7 466.8,459.2 470.7,459.2 466.9,456.9 471.9,457.3 467.0,454.6 470.0,454.4 471.7,454.6 468.6,457.5 473.3,456.0 471.0,458.5 473.7,458.1 473.0,459.6 472.6,458.4 474.6,457.9 473.4,456.4 475.1,455.8 473.8,454.3 475.6,453.7 474.8,452.3 476.2,451.7 476.0,450.5 474.4,452.4 478.8,451.6 475.4,454.3 480.1,453.4 476.0,456.4 481.2,455.3 479.0,457.4 475.4,454.8 480.9,455.7 477.6,453.2 484.2,454.4 481.0,452.0 483.2,452.3 480.9,448.8 484.1,450.1 484.0,448.5 483.4,450.2 486.3,449.4 484.5,451.9 488.1,450.7 487.0,452.7 486.3,451.4 489.0,451.1 487.0,449.5 488.6,448.8 487.9,447.5 489.3,446.9 488.1,445.4 490.3,445.0 489.6,443.7 488.9,444.8 490.7,445.6 489.3,446.8 490.6,447.7 489.7,448.8 491.0,449.7 489.9,450.9 491.3,451.8 490.0,453.0 491.5,453.8 490.2,455.0 491.0,456.0 492.0,455.1 490.5,453.8 492.0,453.1 491.2,451.9 492.8,451.1 491.4,449.8 493.1,449.1 491.7,447.8 493.7,447.2 493.0,446.0 493.7,445.1 493.0,443.9 494.3,443.2 493.3,441.9 494.7,441.3 493.9,440.0 495.6,439.4 494.3,438.0 495.5,437.3 494.5,436.0 495.6,435.3 496.3,436.2 495.5,437.3 496.7,438.1 495.4,439.4 497.2,440.1 495.8,441.4 497.6,442.1 495.3,443.5 497.7,444.1 496.8,445.3 498.3,446.0 497.1,447.3 498.6,448.0 498.0,449.1 497.6,448.0 499.1,447.2 498.3,445.9 500.0,445.2 498.8,443.9 500.2,443.1 499.0,441.7 500.9,441.1 499.3,439.6 501.2,439.0 500.1,437.6 501.0,436.7 502.0,437.5 500.8,438.9 502.2,439.5 501.2,440.8 503.3,441.3 501.8,442.7 503.4,443.3 502.5,444.6 503.9,445.3 503.6,446.4 500.8,444.1 505.6,444.7 502.3,442.2 506.5,442.6 503.4,440.2 506.0,439.9 504.7,438.3 508.6,438.8 505.5,436.5 510.2,437.2 505.4,434.2 510.7,435.3 506.0,432.3 509.0,432.4 512.0,432.7 508.2,434.9 511.8,435.0 508.4,437.0 512.5,437.0 509.2,439.1 511.0,439.6 513.3,439.3 509.7,436.7 514.1,437.2 510.3,434.5 513.0,434.3 515.7,433.9 512.8,437.0 516.4,436.0 513.9,438.8 517.9,437.6 514.8,440.8 517.0,440.7 517.6,439.7 516.6,438.5 518.0,437.6 516.7,436.4 518.2,435.5 517.0,434.3 518.7,433.5 517.0,432.2 519.2,431.4 517.3,430.2 519.2,429.3 517.6,428.1 519.2,427.2 517.9,426.0 519.6,425.1 519.0,424.0 520.9,423.6 517.5,421.2 522.6,422.0 518.7,419.4 522.4,419.7 519.9,417.6 523.1,417.7 522.0,416.1 523.0,416.6 524.0,417.5 522.3,418.8 524.0,419.6 522.6,420.8 524.1,421.7 523.1,422.8 524.6,423.7 523.6,424.9 525.2,425.7 523.6,426.9 525.0,427.8 523.7,429.0 525.0,429.9 524.0,431.1 525.4,431.9 525.0,433.0 524.4,431.7 526.3,431.1 524.8,429.6 526.7,429.0 525.6,427.6 527.1,426.9 526.3,425.5 527.8,424.8 527.0,423.5 528.3,422.7 528.0,421.5 527.6,422.6 529.4,423.3 527.6,424.6 529.2,425.4 528.1,426.6 529.3,427.4 528.5,428.6 530.1,429.3 528.7,430.6 530.4,431.3 529.1,432.6 530.5,433.4 530.0,434.5 529.9,433.4 531.5,432.8 530.5,431.4 531.8,430.8 530.8,429.4 532.6,428.9 531.1,427.4 533.1,426.9 532.1,425.5 533.0,424.7 533.7,425.6 532.8,426.9 534.4,427.6 533.3,428.9 535.1,429.6 533.9,431.0 535.3,431.7 534.2,433.0 535.0,433.9 533.6,435.3 538.2,435.2 534.0,437.4 538.2,437.3 534.4,439.4 538.0,439.5 534.9,441.4 537.0,441.9 537.8,440.9 537.0,439.7 538.5,438.9 536.9,437.5 538.6,436.7 537.6,435.5 539.1,434.6 537.7,433.3 539.4,432.5 538.1,431.2 539.0,430.3 538.1,428.1 541.2,429.5 541.0,428.0 541.6,429.2 543.0,429.0 543.7,428.1 543.0,426.9 544.1,426.1 543.5,424.9 544.5,424.1 544.0,422.9 545.1,422.1 544.3,420.9 545.0,420.0 544.3,418.9 545.9,418.1 544.9,416.9 546.1,416.1 545.2,414.9 546.1,414.0 545.6,412.9 546.6,412.1 545.7,410.9 547.0,410.1 546.3,409.0 547.0,408.0 546.4,406.9 547.0,406.0 546.7,404.6 548.9,404.4 547.0,402.3 549.0,402.0 551.0,401.8 549.0,404.5 552.1,403.4 550.2,406.1 552.0,406.0 552.5,405.1 552.0,403.9 553.2,403.1 552.4,401.9 553.6,401.1 553.0,399.9 553.9,399.1 553.2,397.9 554.0,397.0 555.7,397.4 554.0,399.4 556.8,399.3 554.6,401.5 556.8,401.7 555.2,403.6 557.0,404.0 557.6,403.1 557.0,401.9 558.1,401.1 557.4,399.9 558.6,399.1 557.8,397.9 558.7,397.1 558.2,395.9 559.1,395.1 559.0,394.0 558.3,395.6 561.0,395.5 559.7,397.4 561.0,398.0 562.0,397.2 560.8,395.7 563.2,395.4 561.0,393.6 564.0,393.5 561.4,391.5 564.6,391.4 563.6,390.0 563.5,391.1 564.7,391.8 564.1,393.1 565.1,393.9 564.6,395.1 565.6,395.9 565.2,397.1 566.0,397.9 566.0,399.0 566.4,397.4 568.0,398.0 567.8,396.9 568.6,396.0 568.0,394.9 569.2,394.1 568.4,392.9 569.5,392.1 568.7,390.9 569.8,390.1 569.1,388.9 569.9,388.0 569.3,386.9 570.0,386.0 569.8,384.9 570.7,384.1 569.7,382.8 571.2,382.1 570.7,380.9 571.7,380.1 571.2,378.9 572.1,378.1 571.4,376.9 572.6,376.1 572.1,374.9 572.9,374.1 572.3,372.9 573.0,372.0 573.0,371.0 573.7,370.1 573.4,368.9 574.1,368.0 573.8,366.9 574.6,366.1 574.1,364.9 574.9,364.0 574.5,362.9 575.5,362.1 575.1,360.9 575.8,360.1 575.4,358.9 576.0,358.0 575.9,356.9 577.2,356.2 576.2,354.9 577.2,354.1 576.8,353.0 577.6,352.1 577.2,351.0 578.0,350.1 577.6,349.0 578.0,348.0 577.4,346.8 579.2,346.2 577.6,344.8 579.9,344.2 578.1,342.8 579.8,342.1 578.8,340.9 579.6,340.0 580.0,338.7 581.8,338.5 582.0,337.0 582.5,336.1 582.1,334.9 582.9,334.1 582.3,332.9 583.2,332.1 582.7,330.9 583.6,330.1 583.2,328.9 583.9,328.0 583.7,327.0 584.5,326.1 583.9,324.9 584.4,324.0 584.3,322.7 586.3,322.4 584.8,320.4 587.1,320.3 587.0,319.0 585.8,320.4 588.3,320.8 587.0,322.2 588.0,323.0 590.2,322.6 587.5,320.6 589.7,320.2 588.8,318.8 590.3,318.2 589.5,316.8 591.0,316.2 590.1,314.8 591.0,314.0 592.4,313.7 593.0,315.0 592.8,313.9 593.6,313.0 592.9,311.9 594.2,311.1 593.6,309.9 594.5,309.1 594.0,307.9 595.0,307.1 594.4,305.9 595.3,305.1 594.9,303.9 595.7,303.1 595.3,301.9 596.0,301.0 596.0,300.0 597.4,300.0 597.2,298.2 598.4,298.0 598.9,298.9 598.5,300.1 599.4,300.9 598.7,302.1 599.7,302.9 599.2,304.0 600.0,304.9 599.4,306.1 600.0,307.0 599.8,308.1 600.7,309.0 600.5,310.1 601.3,310.9 600.9,312.1 601.6,313.0 601.5,314.0 602.3,314.9 602.0,316.0 602.4,317.0 604.0,316.0 604.5,317.0 603.9,318.0 604.7,319.0 604.0,320.0 604.8,321.0 604.4,322.0 605.2,323.0 604.3,324.0 605.3,325.0 605.0,326.0 604.5,324.5 607.1,324.6 605.4,322.5 607.0,322.0 607.5,322.9 607.0,324.0 607.8,324.9 607.2,326.1 607.9,327.0 607.5,328.0 608.3,329.0 607.9,330.0 608.5,331.0 608.2,332.0 608.8,333.0 608.2,334.1 609.2,335.0 609.0,336.0 608.7,334.9 610.8,334.3 608.3,332.7 611.1,332.3 610.0,331.0 610.0,332.0 610.8,332.9 610.4,334.1 611.3,334.9 610.7,336.1 611.5,337.0 611.4,338.0 612.2,338.9 612.0,340.0 612.5,341.0 612.0,342.0 612.7,343.0 612.3,344.0 613.0,345.0 612.4,346.0 613.4,346.9 612.7,348.0 613.6,348.9 613.1,350.0 613.8,350.9 613.6,352.0 614.0,353.0 613.3,354.0 614.1,355.0 613.5,356.0 614.2,357.0 613.7,358.0 614.5,359.0 614.0,360.0 614.6,361.0 614.4,362.0 615.9,362.6 614.2,364.3 616.4,364.7 614.5,366.4 616.6,366.8 615.8,368.2 617.5,368.7 617.0,370.0 617.4,371.0 616.9,372.0 617.6,373.0 617.2,374.0 618.0,375.0 617.5,376.0 618.3,376.9 617.5,378.1 618.5,379.0 618.0,380.0 618.7,381.0 618.1,382.1 619.2,382.9 618.5,384.0 619.5,384.9 619.0,386.0 618.8,385.0 619.5,384.0 619.1,383.0 619.8,382.0 619.2,381.0 620.0,380.0 618.9,378.9 620.1,378.0 619.5,377.0 620.3,376.0 619.7,375.0 620.4,374.0 619.8,373.0 620.5,372.0 619.9,371.0 620.9,370.0 619.7,368.9 620.6,368.0 621.0,369.0 620.4,370.0 621.2,371.0 620.6,372.0 621.4,373.0 620.9,374.0 621.9,374.9 620.5,376.1 621.7,377.0 621.2,378.0 621.7,379.0 621.3,380.0 621.9,381.0 621.3,382.0 622.3,383.0 621.6,384.0 622.3,385.0 621.8,386.0 622.6,387.0 622.1,388.0 622.6,389.0 622.4,390.0 622.3,389.0 623.0,388.0 622.1,386.9 623.3,386.0 623.0,385.0 623.7,384.1 623.3,383.0 624.0,382.0 623.4,380.9 624.2,380.0 623.7,378.9 624.4,378.0 624.4,377.0 625.7,378.2 627.0,377.0 626.6,378.6 629.1,378.5 627.7,380.7 630.4,380.4 630.0,382.0 630.5,382.9 630.0,384.1 630.9,384.9 630.6,386.0 631.2,387.0 630.8,388.1 631.8,388.9 631.4,390.0 632.2,390.9 632.0,392.0 632.3,393.0 631.7,394.0 632.6,395.0 632.0,396.0 632.7,397.0 632.1,398.0 632.6,399.0 632.2,400.0 632.9,401.0 632.3,402.0 632.8,403.0 632.4,404.0 633.1,405.0 632.4,406.0 633.0,407.0 632.6,408.0 633.3,409.0 633.0,410.0 633.3,411.0 632.6,412.0 633.4,413.0 632.7,414.0 633.4,415.0 632.7,416.0 633.4,417.0 632.9,418.0 633.5,419.0 632.8,420.0 633.6,421.0 632.9,422.0 633.6,423.0 633.0,424.0 633.8,425.0 633.1,426.0 633.8,427.0 633.1,428.0 634.0,429.0 633.1,430.0 634.0,431.0 633.2,432.0 634.5,433.0 633.2,434.0 634.0,435.0 633.5,436.0 634.1,437.0 633.5,438.0 634.2,439.0 633.4,440.0 634.1,441.0 633.5,442.0 634.4,443.0 633.7,444.0 634.2,445.0 634.0,446.0 634.5,447.0 633.8,448.1 634.6,449.0 634.2,450.0 634.9,451.0 634.4,452.0 635.1,453.0 634.6,454.0 635.4,455.0 634.9,456.0 635.5,457.0 634.9,458.0 635.9,459.0 635.6,460.0 637.6,460.0 635.4,462.8 638.9,461.7 638.0,463.6 639.8,463.9 637.2,466.4 640.4,465.9 638.4,468.1 641.3,467.7 641.0,469.1 642.4,469.4 640.9,472.0 644.3,470.8 642.8,473.4 644.4,473.6 646.7,474.0 644.2,470.7 647.9,472.3 647.0,470.2 647.6,472.2 649.3,469.0 650.0,470.9 649.2,468.4 652.8,470.3 652.4,468.3 652.5,469.9 655.0,469.2 655.0,471.0 656.6,470.7 656.3,474.0 658.4,472.8 660.5,473.5 659.4,470.4 661.9,471.7 662.0,469.9 663.5,470.8 663.4,467.5 665.0,468.7 663.9,466.4 669.6,469.5 667.0,466.1 670.8,467.5 667.0,463.3 669.0,463.4 671.3,463.3 669.3,466.1 671.0,466.4 672.9,466.8 670.5,462.9 674.7,465.5 674.0,463.3 677.0,463.0 673.4,460.9 676.8,460.7 673.7,458.7 677.2,458.6 674.1,456.6 676.0,456.0 676.2,455.0 676.5,454.0 676.8,453.0 677.0,452.0 677.2,451.0 677.5,450.0 677.8,449.0 678.0,448.0 678.2,447.0 678.5,446.0 678.8,445.0 679.0,444.0 679.2,443.0 679.5,442.0 679.8,441.0 680.0,440.0 680.2,439.0 680.4,438.0 680.6,437.0 680.8,436.0 681.0,435.0 681.2,434.0 681.4,433.0 681.6,432.0 681.8,431.0 682.0,430.0 682.1,429.0 682.3,428.0 682.4,427.0 682.5,426.0 682.7,425.0 682.8,424.0 682.9,423.0 683.1,422.0 683.2,421.0 683.3,420.0 683.5,419.0 683.6,418.0 683.7,417.0 683.8,416.0 683.9,415.0 684.0,414.0 684.1,413.0 684.2,412.0 684.3,411.0 684.4,410.0 684.5,409.0 684.6,408.0 684.7,407.0 684.8,406.0 684.9,405.0 685.0,404.0 685.1,403.0 685.1,402.0 685.2,401.0 685.2,400.0 685.3,399.0 685.4,398.0 685.4,397.0 685.5,396.0 685.6,395.0 685.6,394.0 685.7,393.0 685.8,392.0 685.8,391.0 685.9,390.0 685.9,389.0 686.0,388.0 686.1,387.0 686.1,386.0 686.2,385.0 686.2,384.0 686.3,383.0 686.3,382.0 686.4,381.0 686.4,380.0 686.5,379.0 686.6,378.0 686.6,377.0 686.7,376.0 686.7,375.0 686.8,374.0 686.8,373.0 686.9,372.0 686.9,371.0 687.0,370.0 687.0,369.0 687.0,368.0 687.1,367.0 687.1,366.0 687.1,365.0 687.1,364.0 687.2,363.0 687.2,362.0 687.2,361.0 687.2,360.0 687.2,359.0 687.3,358.0 687.3,357.0 687.3,356.0 687.3,355.0 687.4,354.0 687.4,353.0 687.4,352.0 687.4,351.0 687.5,350.0 687.5,349.0 687.5,348.0 687.5,347.0 687.5,346.0 687.6,345.0 687.6,344.0 687.6,343.0 687.6,342.0 687.7,341.0 687.7,340.0 687.7,339.0 687.7,338.0 687.8,337.0 687.8,336.0 687.8,335.0 687.8,334.0 687.8,333.0 687.9,332.0 687.9,331.0 687.9,330.0 687.9,329.0 688.0,328.0 688.0,327.0 688.0,326.0 688.1,325.0 688.3,324.0 688.4,323.0 688.6,322.0 688.7,321.0 688.9,320.0 689.0,319.0 689.1,318.0 689.3,317.0 689.4,316.0 689.6,315.0 689.7,314.0 689.9,313.0 690.0,312.0 690.4,311.0 690.8,310.0 691.2,309.0 691.6,308.0 692.0,307.0 692.4,306.0 692.4,307.0 692.5,308.0 692.5,309.0 692.5,310.0 692.6,311.0 692.6,312.0 692.6,313.0 692.7,314.0 692.7,315.0 692.7,316.0 692.8,317.0 692.8,318.0 692.8,319.0 692.9,320.0 692.9,321.0 692.9,322.0 693.0,323.0 693.0,324.0 693.0,323.0 693.1,322.0 693.1,321.0 693.1,320.0 693.2,319.0 693.2,318.0 693.2,317.0 693.3,316.0 693.3,315.0 693.3,314.0 693.4,313.0 693.4,312.0 693.4,311.0 693.5,310.0 693.5,309.0 693.5,308.0 693.6,307.0 693.6,306.0 693.6,305.0 693.7,304.0 693.7,303.0 693.7,302.0 693.8,301.0 693.8,300.0 693.8,299.0 693.9,298.0 693.9,297.0 693.9,296.0 694.0,295.0 694.0,294.0 694.0,293.0 694.1,292.0 694.1,291.0 694.1,290.0 694.2,289.0 694.2,288.0 694.2,287.0 694.3,286.0 694.3,285.0 694.3,284.0 694.4,283.0 694.4,282.0 694.5,283.0 694.5,284.0 694.6,285.0 694.6,286.0 694.7,287.0 694.8,288.0 694.8,289.0 694.9,290.0 694.9,291.0 695.0,292.0 695.1,293.0 695.1,294.0 695.2,295.0 695.2,296.0 695.3,297.0 695.4,298.0 695.4,299.0 695.5,300.0 695.5,301.0 695.6,302.0 695.7,301.0 695.8,300.0 695.9,299.0 696.0,298.0 696.1,297.0 696.3,296.0 696.4,295.0 696.5,294.0 696.6,293.0 696.7,292.0 696.8,291.0 696.9,290.0 697.0,289.0 697.1,288.0 697.2,287.0 697.3,286.0 697.5,285.0 697.6,284.0 697.7,283.0 697.8,282.0 697.9,281.0 698.0,280.0 698.2,279.0 698.4,278.0 698.6,277.0 698.8,276.0 699.0,275.0 699.2,274.0 699.4,273.0 699.6,272.0 699.8,271.0 700.0,270.0 700.0,269.0 700.1,268.0 700.1,267.0 700.2,266.0 700.2,265.0 700.2,264.0 700.3,263.0 700.3,262.0 700.4,261.0 700.4,260.0 700.4,259.0 700.4,258.0 700.4,257.0 700.4,256.0 700.5,255.0 700.5,254.0 700.5,253.0 700.5,252.0 700.5,251.0 700.5,250.0 700.5,249.0 700.5,248.0 700.5,247.0 700.6,246.0 700.6,245.0 700.6,244.0 700.6,243.0 700.6,242.0 700.6,241.0 700.6,240.0 700.6,239.0 700.7,238.0 700.7,237.0 700.7,236.0 700.7,235.0 700.7,234.0 700.7,233.0 700.7,232.0 700.7,231.0 700.7,230.0 700.8,229.0 700.8,228.0 700.8,227.0 700.8,226.0 700.8,225.0 700.8,224.0 700.9,223.0 700.9,222.0 700.9,221.0 701.0,220.0 701.0,219.0 701.0,218.0 701.1,217.0 701.1,216.0 701.1,215.0 701.2,214.0 701.2,213.0 701.3,212.0 701.3,211.0 701.3,210.0 701.4,209.0 701.4,208.0 701.4,207.0 701.5,206.0 701.5,205.0 701.6,204.0 701.8,203.0 701.9,202.0 702.0,201.0 702.1,200.0 702.2,199.0 702.4,198.0 702.5,197.0 702.7,196.0 703.0,195.0 703.2,194.0 703.5,193.0 703.7,192.0 703.9,191.0 704.2,190.0 704.4,189.0 704.5,190.0 704.5,191.0 704.6,192.0 704.7,193.0 704.8,194.0 704.8,195.0 704.9,196.0 705.0,197.0 705.1,198.0 705.1,199.0 705.2,200.0 705.3,201.0 705.3,202.0 705.4,203.0 705.5,204.0 705.6,205.0 705.6,206.0 705.7,207.0 705.8,208.0 705.8,209.0 705.9,210.0 706.0,211.0 706.1,212.0 706.1,213.0 706.2,214.0 706.3,213.0 706.3,212.0 706.4,211.0 706.5,210.0 706.6,209.0 706.6,208.0 706.7,207.0 706.8,206.0 706.9,205.0 706.9,204.0 707.0,203.0 707.1,204.0 707.1,205.0 707.2,206.0 707.3,207.0 707.4,208.0 707.4,209.0 707.5,210.0 707.6,211.0 707.6,212.0 707.7,213.0 707.8,214.0 707.9,215.0 707.9,216.0 708.0,217.0 708.1,216.0 708.2,215.0 708.3,214.0 708.4,213.0 708.5,212.0 708.5,211.0 708.6,210.0 708.7,209.0 708.8,208.0 708.9,207.0 709.0,206.0 709.1,207.0 709.2,208.1 709.3,209.1 709.4,210.2 709.5,211.2 709.5,212.3 709.6,213.3 709.7,214.4 709.8,215.4 709.9,216.5 710.0,217.5 710.1,216.5 710.1,215.4 710.2,214.4 710.2,213.3 710.3,212.3 710.4,211.3 710.4,210.2 710.5,209.2 710.6,208.2 710.6,207.1 710.7,206.1 710.7,205.0 710.8,204.0 710.9,203.0 711.0,202.0 711.1,201.0 711.1,200.0 711.2,199.0 711.3,198.0 711.4,197.0 711.5,196.0 711.6,195.0 711.7,194.0 711.7,193.0 711.8,192.0 711.9,191.0 712.0,190.0 712.1,189.0 712.2,188.0 712.3,187.0 712.4,186.0 712.5,185.0 712.6,184.0 712.6,183.0 712.7,182.0 712.8,181.0 712.9,180.0 713.0,179.0 713.1,178.0 713.2,177.0 713.2,178.0 713.3,179.0 713.3,180.0 713.3,181.0 713.4,182.0 713.4,183.0 713.4,184.0 713.5,185.0 713.5,186.0 713.5,187.0 713.6,188.0 713.6,189.0 713.6,190.0 713.7,191.0 713.7,192.0 713.7,193.0 713.8,194.0 713.8,195.0 713.8,196.0 713.8,197.0 713.8,198.0 713.9,199.0 713.9,200.0 713.9,201.0 713.9,202.0 713.9,203.0 713.9,204.0 714.0,205.0 714.0,206.0 714.0,207.0 714.0,208.0 714.0,209.0 714.0,210.0 714.1,211.0 714.1,212.0 714.1,213.0 714.1,214.0 714.1,215.0 714.1,216.0 714.2,217.0 714.2,218.0 714.2,219.0 714.2,220.0 714.2,221.0 714.2,222.0 714.3,223.0 714.3,224.0 714.3,225.0 714.3,226.0 714.4,227.0 714.4,228.0 714.4,229.0 714.5,230.0 714.5,231.0 714.5,232.0 714.6,233.0 714.6,234.0 714.6,235.0 714.7,236.0 714.7,237.0 714.7,238.0 714.8,239.0 714.8,240.0 714.8,241.0 714.9,242.0 714.9,243.0 715.0,242.0 715.0,241.0 715.1,240.0 715.2,239.0 715.3,238.0 715.3,237.0 715.4,236.0 715.5,235.0 715.6,234.0 715.6,233.0 715.7,232.0 715.8,231.0 715.9,230.0 716.0,229.0 716.1,228.0 716.2,227.0 716.3,226.0 716.4,227.0 716.6,228.0 716.7,229.0 716.8,230.0 716.9,231.0 717.1,232.0 717.2,233.0 717.8,233.0 717.8,232.0 717.9,231.0 717.9,230.0 718.0,229.0 718.0,228.0 718.0,227.0 718.1,226.0 718.1,225.0 718.1,224.0 718.2,223.0 718.2,222.0 718.3,221.0 718.3,220.0 718.3,219.0 718.4,218.0 718.4,217.0 718.5,216.0 718.5,215.0 718.6,214.0 718.6,213.0 718.7,212.0 718.7,211.0 718.8,210.0 718.9,209.0 718.9,208.0 719.0,207.0 719.0,206.0 719.1,205.0 719.1,204.0 719.2,203.0 719.3,202.0 719.3,201.0 719.4,200.0 719.4,199.0 719.5,198.0 720.2,197.0 720.3,196.0 720.4,195.0 720.4,193.9 720.5,192.9 720.6,191.9 720.7,190.9 720.8,189.8 720.9,188.8 720.9,187.8 721.0,186.8 721.1,185.8 721.2,184.7 721.3,183.7 721.3,182.7 721.4,181.7 721.5,180.6 721.6,179.6 721.7,178.6 721.8,177.6 721.8,176.5 721.9,175.5 722.0,174.5" fill="none" stroke="#2578b5" stroke-width="3.7" stroke-linejoin="bevel" stroke-linecap="butt"/>
<rect x="529" y="19.5" width="12" height="11.5" fill="#2578b5"/>
</svg>
<div class="t" style="left:544.5px;top:18px;font-size:15px;color:#6a6a6a;">US Generic Govt 2 Yr</div>
<div class="t yl" style="top:98.6px;">6.<span class="z">0</span><span class="z">0</span></div>
<div class="t yl" style="top:222.6px;">4.<span class="z">0</span><span class="z">0</span></div>
<div class="t yl" style="top:347.6px;">2.<span class="z">0</span><span class="z">0</span></div>
<div class="t xl" style="left:99px;letter-spacing:1.4px;"><span class="z">0</span>7/<span class="z">0</span><span class="o">1</span>/<span class="z">0</span><span class="z">0</span></div>
<div class="t xl" style="left:200.7px;letter-spacing:1.2px;"><span class="z">0</span>7/<span class="o">1</span><span class="o">1</span>/<span class="z">0</span>3</div>
<div class="t xl" style="left:302.4px;letter-spacing:1.2px;"><span class="z">0</span>7/<span class="z">0</span>9/<span class="z">0</span>7</div>
<div class="t xl" style="left:404.8px;letter-spacing:0.8999999999999999px;"><span class="z">0</span>8/<span class="z">0</span>7/<span class="o">1</span><span class="o">1</span></div>
<div class="t xl" style="left:506.3px;letter-spacing:1.2px;"><span class="z">0</span>8/<span class="z">0</span>5/<span class="o">1</span>5</div>
<div class="t xl" style="left:608.2px;letter-spacing:1.4px;"><span class="z">0</span>8/<span class="z">0</span>3/<span class="o">1</span>9</div>
<div class="t xl" style="left:710px;letter-spacing:1.4px;"><span class="z">0</span>6/<span class="z">0</span><span class="o">1</span>/23</div>

<div class="t" style="left:14px;top:510.5px;font-size:11px;color:#777;">Source: Bloomberg</div>
</body></html>
